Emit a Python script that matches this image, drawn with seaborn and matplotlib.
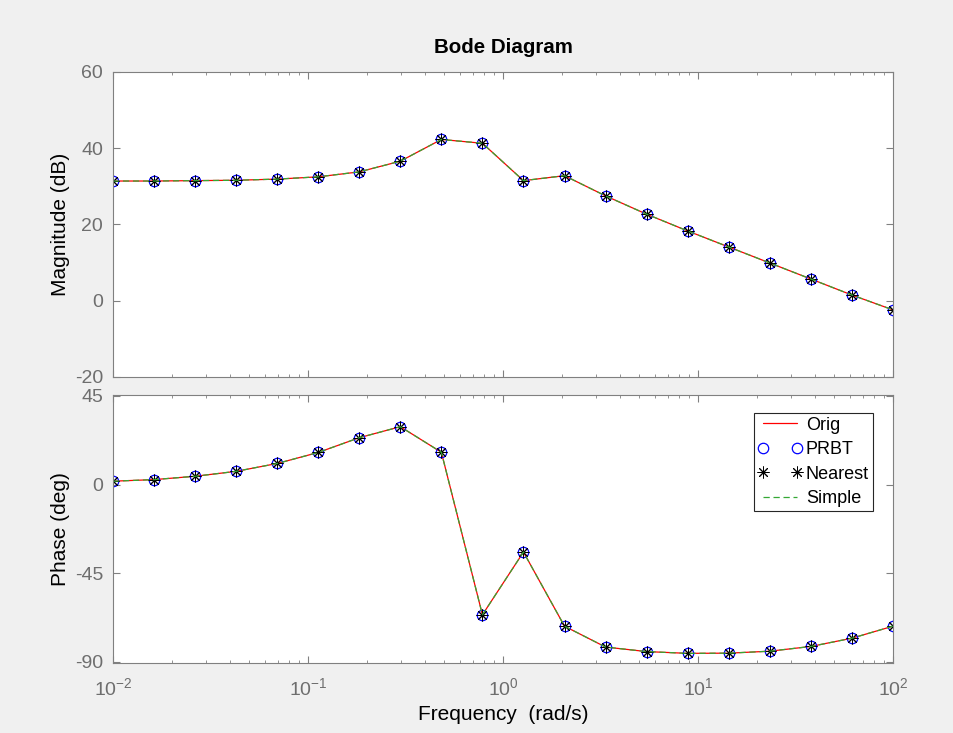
import matplotlib
matplotlib.use("Agg")
import matplotlib.pyplot as plt
import seaborn as sns
from matplotlib.ticker import LogLocator, NullFormatter, FixedLocator

# Frequency grid (rad/s) and Bode values
freq = [0.01, 0.01624, 0.02637, 0.04281, 0.06952, 0.1129, 0.1833, 0.2976, 0.4833, 0.7848,
        1.274, 2.069, 3.360, 5.456, 8.859, 14.38, 23.36, 37.93, 61.58, 100.0]
mag_db = [31.4, 31.4, 31.5, 31.6, 31.9, 32.5, 33.8, 36.6, 42.3, 41.3,
          31.5, 32.8, 27.5, 22.7, 18.3, 14.1, 9.9, 5.7, 1.5, -2.4]
phase_deg = [1.7, 2.5, 4.2, 6.7, 10.7, 16.3, 23.8, 29.4, 16.4, -66.2,
             -34.3, -72.0, -82.6, -84.9, -85.8, -85.7, -84.7, -82.3, -78.1, -72.0]

mag_ticks = [-20, 0, 20, 40, 60]
phase_ticks = [-90, -45, 0, 45]

sns.set_theme(style="ticks")
plt.rcParams["font.family"] = ["Liberation Sans", "DejaVu Sans"]
plt.rcParams["axes.unicode_minus"] = False
plt.rcParams["mathtext.fontset"] = "custom"
plt.rcParams["mathtext.rm"] = "Liberation Sans"
plt.rcParams["mathtext.it"] = "Liberation Sans"

grey = "#808080"
fig = plt.figure(figsize=(9.54, 7.33), dpi=100, facecolor="#f0f0f0")
ax_mag = fig.add_axes([0.1184, 0.4857, 0.8176, 0.4161])
ax_ph = fig.add_axes([0.1184, 0.0955, 0.8176, 0.3656])


def draw_series(ax, y):
    # same overlay order as the original: Orig, PRBT, Nearest, Simple
    sns.lineplot(x=freq, y=y, ax=ax, color="red", linewidth=0.9,
                 estimator=None, sort=False, label="Orig")
    sns.lineplot(x=freq, y=y, ax=ax, color="blue", linestyle="none", marker="o",
                 markersize=7.5, markerfacecolor="none", markeredgecolor="blue",
                 markeredgewidth=0.9, estimator=None, sort=False, label="PRBT")
    sns.lineplot(x=freq, y=y, ax=ax, color="black", linestyle="none", marker=(8, 2, 0),
                 markersize=8.5, markeredgewidth=0.7, markeredgecolor="black",
                 estimator=None, sort=False, label="Nearest")
    sns.lineplot(x=freq, y=y, ax=ax, color="#34a834", linewidth=0.9, linestyle=(0, (5, 3)),
                 estimator=None, sort=False, label="Simple")


draw_series(ax_mag, mag_db)
draw_series(ax_ph, phase_deg)

for ax in (ax_mag, ax_ph):
    ax.set_facecolor("white")
    ax.set_xscale("log")
    ax.set_xlim(0.01, 100)
    ax.xaxis.set_major_locator(LogLocator(base=10, numticks=10))
    ax.xaxis.set_minor_locator(LogLocator(base=10, subs=range(2, 10), numticks=20))
    ax.xaxis.set_minor_formatter(NullFormatter())
    ax.tick_params(which="both", direction="in", top=True, right=True,
                   colors=grey, labelcolor="#6e6e6e", labelsize=14)
    ax.tick_params(which="major", length=5, width=0.8)
    ax.tick_params(which="minor", length=2.5, width=0.6)
    ax.tick_params(axis="y", pad=7)
    ax.tick_params(axis="x", pad=10)
    for s in ax.spines.values():
        s.set_color(grey)
        s.set_linewidth(0.8)
    ax.grid(False)

ax_mag.set_ylim(-20, 60)
ax_mag.yaxis.set_major_locator(FixedLocator(mag_ticks))
ax_mag.tick_params(axis="x", labelbottom=False)
ax_mag.set_xlabel("")
ax_mag.set_ylabel("Magnitude (dB)", fontsize=15, color="black")
ax_mag.yaxis.set_label_coords(-0.055, 0.5)
ax_mag.set_title("Bode Diagram", fontsize=14.8, fontweight="bold", color="black", pad=14)
ax_mag.get_legend().remove()

ax_ph.set_ylim(-90.7, 45.5)
ax_ph.yaxis.set_major_locator(FixedLocator(phase_ticks))
ax_ph.set_ylabel("Phase (deg)", fontsize=15, color="black")
ax_ph.yaxis.set_label_coords(-0.055, 0.5)
ax_ph.set_xlabel("Frequency  (rad/s)", fontsize=15, color="black")
ax_ph.xaxis.set_label_coords(0.5, -0.155)

leg = ax_ph.legend(loc="upper right", bbox_to_anchor=(0.974, 0.933), numpoints=2,
                   fontsize=13, frameon=True, fancybox=False, framealpha=1,
                   edgecolor="#262626", handlelength=2.5, handletextpad=0.2,
                   borderpad=0.2, labelspacing=0.42, borderaxespad=0)
leg.get_frame().set_linewidth(0.8)
for t in leg.get_texts():
    t.set_color("black")

fig.savefig("out.png", dpi=100, facecolor=fig.get_facecolor())
